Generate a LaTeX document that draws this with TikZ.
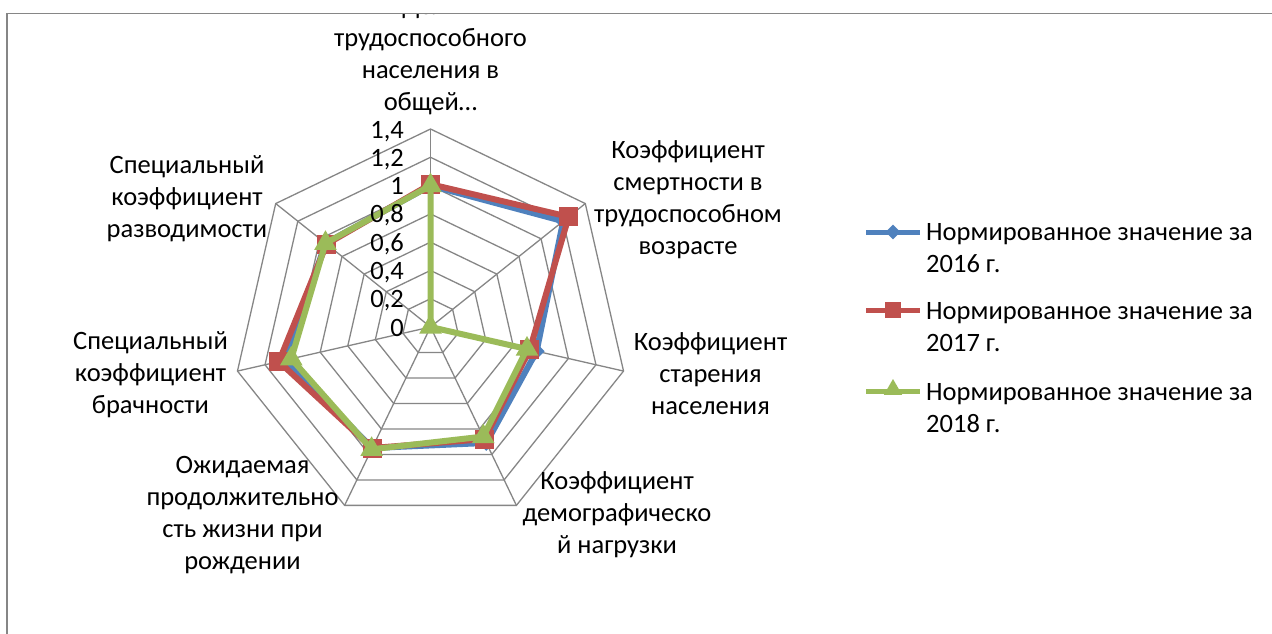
\documentclass[tikz,border=0pt]{standalone}
\usepackage{fontspec}
\setmainfont{Carlito}
\usetikzlibrary{shapes.geometric}
\definecolor{gridc}{HTML}{868686}
\definecolor{sA}{HTML}{4F81BD}
\definecolor{sB}{HTML}{C0504D}
\definecolor{sC}{HTML}{9BBB59}
\begin{document}
\begin{tikzpicture}[x=1pt,y=-1pt,
  lbl/.style={font=\fontsize{26.5}{32}\selectfont, align=center, inner sep=0pt, anchor=north},
  lgtxt/.style={font=\fontsize{26.5}{32}\selectfont, align=left, inner sep=0pt, anchor=north west},
  ticklbl/.style={font=\fontsize{26.5}{32}\selectfont, inner sep=0pt, anchor=base east},
  gridln/.style={draw=gridc, line width=1.3pt},
  ser/.style={line width=6pt, line join=round},
  mkA/.style={diamond, fill=sA, minimum size=16pt, inner sep=0pt},
  mkB/.style={rectangle, fill=sB, minimum size=19pt, inner sep=0pt},
  mkC/.style={regular polygon, regular polygon sides=3, fill=sC, minimum size=26pt, inner sep=0pt},
  lmkA/.style={diamond, fill=sA, minimum size=15pt, inner sep=0pt},
  lmkB/.style={rectangle, fill=sB, minimum size=16pt, inner sep=0pt},
  lmkC/.style={regular polygon, regular polygon sides=3, fill=sC, minimum size=21pt, inner sep=0pt},
  ]
\useasboundingbox (0,0) rectangle (1272,633);
\clip (0,0) rectangle (1272,633);
\fill[white] (0,0) rectangle (1272,633);
\draw[gridc, line width=1.5pt] (7,13.5) rectangle (1300,700);

% radar grid
\begin{scope}[shift={(430.5,327)}]
  \foreach \i in {1,...,7} {
    \draw[gridln] (-90:28.2857*\i)
      \foreach \k in {1,...,6} { -- (-90+\k*51.4286:28.2857*\i) } -- cycle;
  }
  \foreach \k in {0,...,6} {
    \draw[gridln] (0,0) -- (-90+\k*51.4286:198);
  }
  % data points
  \foreach \v [count=\k from 0] in {1.0,1.20,0.77,0.91,0.95,1.05,0.95}
    \coordinate (pa\k) at (-90+\k*51.4286:141.4*\v);
  \foreach \v [count=\k from 0] in {1.01,1.25,0.72,0.88,0.95,1.10,0.94}
    \coordinate (pb\k) at (-90+\k*51.4286:141.4*\v);
  \foreach \v [count=\k from 0] in {1.0,0.0,0.70,0.86,0.96,1.01,0.95}
    \coordinate (pc\k) at (-90+\k*51.4286:141.4*\v);
\end{scope}

% series 2016
\draw[ser, sA] (pa0) -- (pa1) -- (pa2) -- (pa3) -- (pa4) -- (pa5) -- (pa6) -- cycle;
\foreach \k in {0,...,6} \node[mkA] (ma\k) at (pa\k) {};
% series 2017
\draw[ser, sB] (pb0) -- (pb1) -- (pb2) -- (pb3) -- (pb4) -- (pb5) -- (pb6) -- cycle;
\foreach \k in {0,...,6} \node[mkB] (mb\k) at (pb\k) {};
% series 2018
\draw[ser, sC] (pc0) -- (pc1) -- (pc2) -- (pc3) -- (pc4) -- (pc5) -- (pc6) -- cycle;
\foreach \k in {0,...,6} \node[mkC] (mc\k) at (pc\k) {};

% tick labels
\node[ticklbl] (t0) at (404,336) {0};
\node[ticklbl] (t1) at (404,307.7) {0,2};
\node[ticklbl] (t2) at (404,279.4) {0,4};
\node[ticklbl] (t3) at (404,251.1) {0,6};
\node[ticklbl] (t4) at (404,222.9) {0,8};
\node[ticklbl] (t5) at (404,194.6) {1};
\node[ticklbl] (t6) at (404,166.3) {1,2};
\node[ticklbl] (t7) at (404,138) {1,4};

% axis labels
\begin{scope}
  \clip (0,14.3) rectangle (1272,633);
  \node[lbl] (L0) at (430.5,-8.4) {\strut Доля\\трудоспособного\\населения в\\общей…};
\end{scope}
\node[lbl] (L1) at (688,135.6) {\strut Коэффициент\\смертности в\\трудоспособном\\возрасте};
\node[lbl] (L2) at (710.5,327.6) {\strut Коэффициент\\старения\\населения};
\node[lbl] (L3) at (617,466.6) {\strut Коэффициент\\демографическо\\й нагрузки};
\node[lbl] (L4) at (242.5,450.6) {\strut Ожидаемая\\продолжительно\\сть жизни при\\рождении};
\node[lbl] (L5) at (150.5,326.6) {\strut Специальный\\коэффициент\\брачности};
\node[lbl] (L6) at (187,150.6) {\strut Специальный\\коэффициент\\разводимости};

% legend
\coordinate (la1) at (866,232); \coordinate (la2) at (920,232);
\coordinate (lb1) at (866,310); \coordinate (lb2) at (920,310);
\coordinate (lc1) at (866,391); \coordinate (lc2) at (920,391);
\draw[sA, line width=5pt] (la1) -- (la2);
\node[lmkA] (lma) at (893,232) {};
\draw[sB, line width=5pt] (lb1) -- (lb2);
\node[lmkB] (lmb) at (893,310) {};
\draw[sC, line width=5pt] (lc1) -- (lc2);
\node[lmkC] (lmc) at (893,389.5) {};
\node[lgtxt] (g1) at (926,217.6) {\strut Нормированное значение за\\2016 г.};
\node[lgtxt] (g2) at (926,296.6) {\strut Нормированное значение за\\2017 г.};
\node[lgtxt] (g3) at (926,377.6) {\strut Нормированное значение за\\2018 г.};
\end{tikzpicture}
\end{document}
